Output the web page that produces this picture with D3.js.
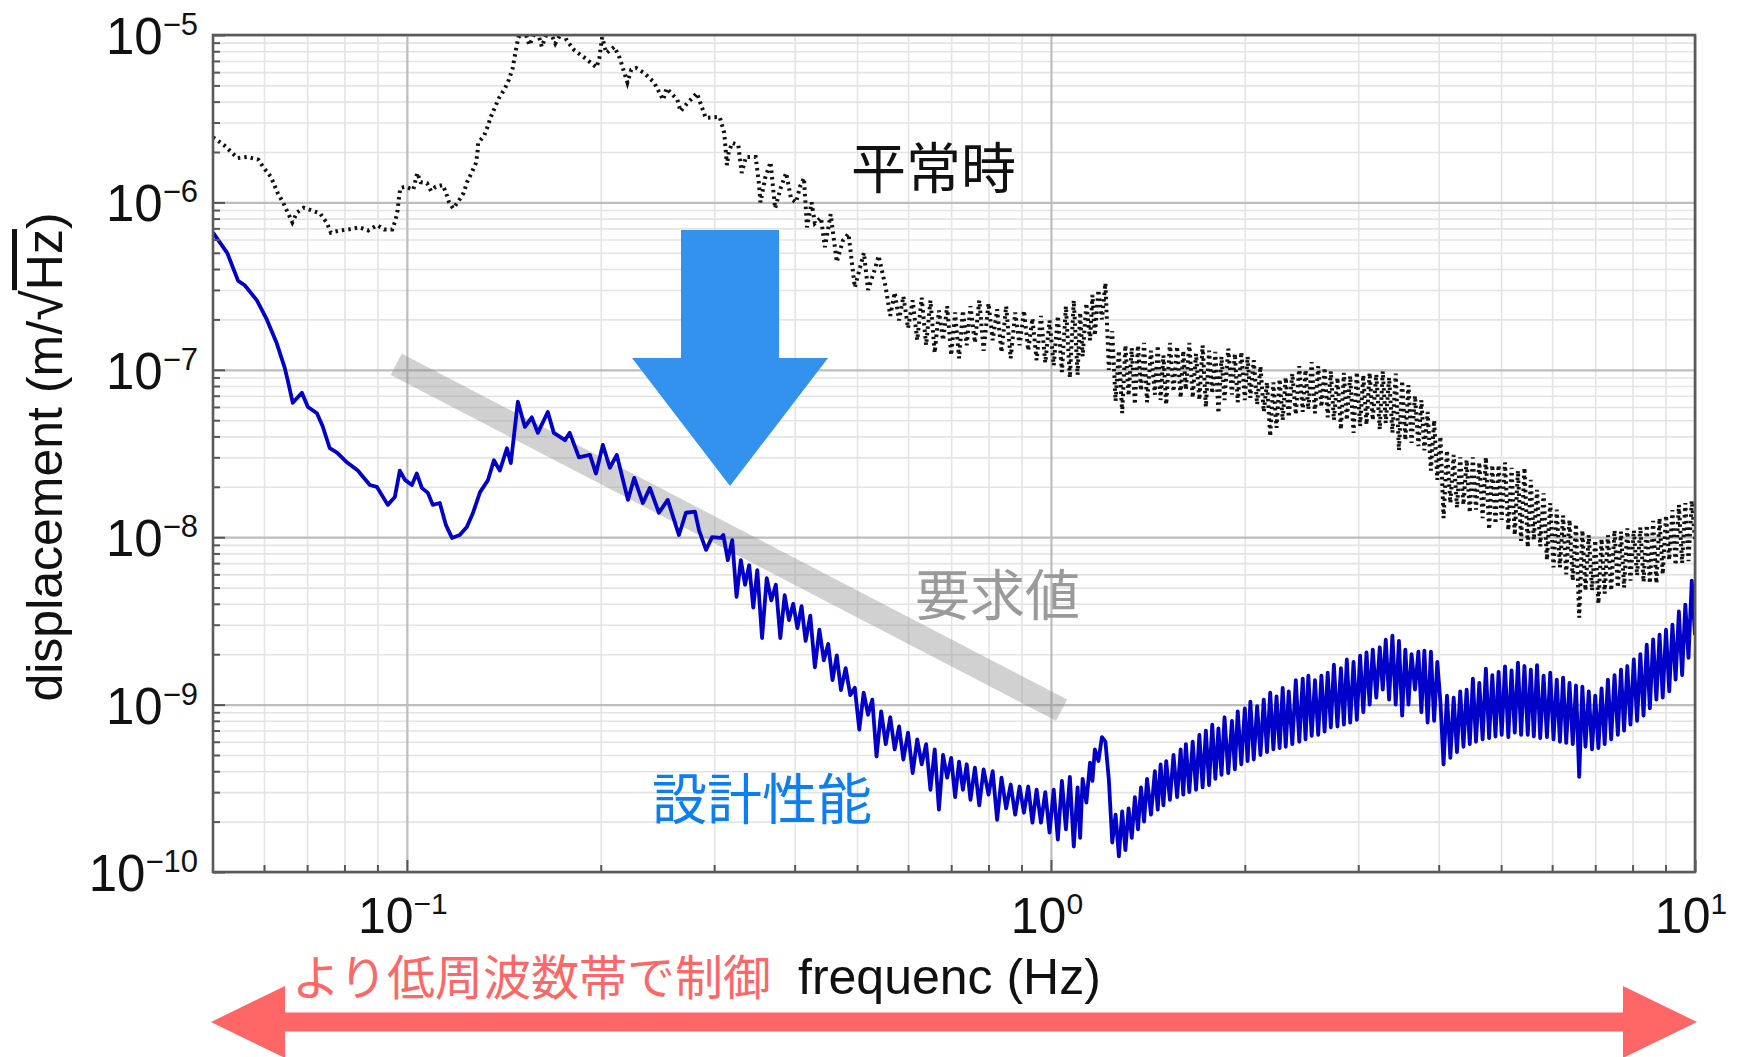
<!DOCTYPE html>
<html>
<head>
<meta charset="utf-8">
<script src="https://cdn.jsdelivr.net/npm/d3@7"></script>
<style>
  html, body { margin: 0; padding: 0; background: #fff; }
  svg { display: block; }
</style>
</head>
<body>
<svg id="chart" width="1738" height="1057"></svg>
<script>
// major ticks
const freqTicks = [0.1, 1, 10];
const freqTickExp = ['\u22121', '0', '1'];
const dispTicks = [1e-5, 1e-6, 1e-7, 1e-8, 1e-9, 1e-10];
const dispTickExp = ['\u22125', '\u22126', '\u22127', '\u22128', '\u22129', '\u221210'];

// 要求値 (requirement)
const requirementFreq = [0.1, 1];
const requirementDisp = [1e-7, 1e-9];

// 平常時 (normal ground motion) below 0.55 Hz
const normalFreq = [
  0.050, 0.052, 0.0546, 0.0565, 0.0588, 0.0598, 0.0615, 0.063, 0.0643, 0.0664,
  0.0675, 0.0692, 0.0715, 0.0733, 0.0752, 0.0762, 0.0787, 0.0813, 0.0843, 0.0871,
  0.0899, 0.0922, 0.0949, 0.096, 0.0967, 0.0972, 0.0977, 0.0995, 0.1023, 0.1038,
  0.105, 0.1075, 0.109, 0.1108, 0.1137, 0.115, 0.1163, 0.118, 0.1205, 0.1225,
  0.124, 0.126, 0.128, 0.1287, 0.129, 0.1318, 0.1333, 0.135, 0.137, 0.139,
  0.142, 0.144, 0.146, 0.147, 0.148, 0.149,
  0.1525, 0.155, 0.159, 0.162, 0.166, 0.170, 0.175, 0.177, 0.182, 0.188,
  0.197, 0.199, 0.201, 0.204, 0.210, 0.214, 0.220, 0.223, 0.227, 0.234,
  0.242, 0.250, 0.253, 0.263, 0.266, 0.269, 0.282, 0.291, 0.306, 0.311,
  0.314, 0.316, 0.320, 0.327, 0.331, 0.336, 0.348, 0.352, 0.354, 0.360,
  0.367, 0.373, 0.380, 0.388, 0.395, 0.402, 0.408, 0.4135, 0.418, 0.425,
  0.430, 0.4395, 0.4457, 0.455, 0.465, 0.4753, 0.485, 0.496, 0.5124, 0.52,
  0.533, 0.54
];
const normalDisp = [
  2.45e-6, 2.2e-6, 1.84e-6, 1.87e-6, 1.8e-6, 1.63e-6, 1.42e-6, 1.14e-6, 9.9e-7, 7.6e-7,
  8.7e-7, 9.3e-7, 8.9e-7, 8.6e-7, 7.5e-7, 6.6e-7, 6.8e-7, 6.9e-7, 7.1e-7, 6.8e-7,
  7.3e-7, 6.9e-7, 6.9e-7, 7.8e-7, 8.9e-7, 1.06e-6, 1.22e-6, 1.24e-6, 1.19e-6, 1.5e-6,
  1.32e-6, 1.3e-6, 1.17e-6, 1.24e-6, 1.27e-6, 1.14e-6, 1.0e-6, 9.2e-7, 1.03e-6, 1.14e-6,
  1.32e-6, 1.5e-6, 1.72e-6, 1.97e-6, 2.27e-6, 2.5e-6, 2.8e-6, 3.24e-6, 3.7e-6, 4.2e-6,
  4.8e-6, 5.4e-6, 6.35e-6, 7.4e-6, 8.5e-6, 9.7e-6,
  1.05e-5, 8.7e-6, 1.1e-5, 8.5e-6, 1.1e-5, 8.9e-6, 1.08e-5, 9.3e-6, 8.1e-6, 7.4e-6,
  6.4e-6, 7.3e-6, 9.7e-6, 7.8e-6, 8.5e-6, 7.3e-6, 5.2e-6, 6.2e-6, 6.35e-6, 5.9e-6,
  5.2e-6, 4.1e-6, 4.8e-6, 4.1e-6, 3.5e-6, 3.7e-6, 4.5e-6, 3.2e-6, 3.24e-6, 2.6e-6,
  1.67e-6, 2.0e-6, 2.27e-6, 2.2e-6, 1.5e-6, 1.87e-6, 1.87e-6, 1.3e-6, 1.0e-6, 1.4e-6,
  1.74e-6, 9.2e-7, 1.2e-6, 1.5e-6, 1.05e-6, 1.0e-6, 1.25e-6, 1.4e-6, 7.1e-7, 1.0e-6,
  7.5e-7, 8.1e-7, 5.4e-7, 8.5e-7, 4.4e-7, 5.9e-7, 6.5e-7, 3.1e-7, 5.0e-7, 3.0e-7,
  4.0e-7, 4.8e-7
];
// 平常時, 0.55 - 1.1 Hz
const normalMidFreq = [
  0.554, 0.563, 0.572, 0.581, 0.59, 0.6, 0.61, 0.62, 0.63, 0.64,
  0.65, 0.66, 0.67, 0.68, 0.69, 0.7, 0.71, 0.72, 0.73, 0.74,
  0.75, 0.762, 0.774, 0.786, 0.8, 0.812, 0.825, 0.838, 0.852, 0.866,
  0.88, 0.894, 0.908, 0.922, 0.936, 0.95, 0.965, 0.98, 0.995, 1.01,
  1.025, 1.04, 1.055, 1.07, 1.085
];
const normalMidDisp = [
  3.1e-7, 2.1e-7, 2.9e-7, 1.97e-7, 2.75e-7, 1.77e-7, 2.6e-7, 1.5e-7, 2.7e-7, 1.4e-7,
  2.6e-7, 1.26e-7, 2.26e-7, 1.5e-7, 2.4e-7, 1.22e-7, 2.2e-7, 1.17e-7, 2.26e-7, 1.4e-7,
  2.4e-7, 1.45e-7, 2.6e-7, 1.3e-7, 2.5e-7, 1.5e-7, 2.3e-7, 1.27e-7, 2.4e-7, 1.17e-7,
  2.2e-7, 1.4e-7, 2.26e-7, 1.3e-7, 2.03e-7, 1.14e-7, 2.1e-7, 1.1e-7, 1.97e-7, 1.06e-7,
  2.1e-7, 9.7e-8, 2.4e-7, 8.95e-8, 2.6e-7
];

// 設計性能 (design performance) below 0.31 Hz
const designFreq = [
  0.05, 0.0526, 0.0547, 0.056, 0.0585, 0.0606, 0.0628, 0.0646, 0.0653, 0.0665,
  0.0687, 0.0702, 0.0725, 0.074, 0.0759, 0.0779, 0.0807, 0.0839, 0.0876, 0.0898,
  0.0934, 0.0958, 0.0975, 0.0993, 0.1018, 0.1036, 0.1055, 0.1078, 0.1097, 0.1125,
  0.115, 0.1175, 0.1208, 0.1239, 0.1266, 0.1299, 0.1336, 0.1365, 0.1394, 0.143,
  0.145, 0.1487, 0.1525, 0.1563, 0.1597, 0.1655, 0.1691, 0.176, 0.179, 0.185,
  0.1924, 0.1966, 0.2015, 0.2066, 0.2118, 0.2204, 0.2254, 0.2325, 0.2384, 0.2462,
  0.2541, 0.2645, 0.2712, 0.2801, 0.2842, 0.2914, 0.2977, 0.3073
];
const designDisp = [
  6.6e-7, 5.0e-7, 3.4e-7, 3.2e-7, 2.6e-7, 2.0e-7, 1.44e-7, 1.03e-7, 8.7e-8, 6.35e-8,
  7.3e-8, 6.0e-8, 5.5e-8, 4.6e-8, 3.4e-8, 3.2e-8, 2.8e-8, 2.5e-8, 2.05e-8, 2.0e-8,
  1.56e-8, 1.74e-8, 2.5e-8, 2.2e-8, 2.05e-8, 2.4e-8, 1.97e-8, 1.84e-8, 1.56e-8, 1.6e-8,
  1.18e-8, 9.9e-9, 1.03e-8, 1.15e-8, 1.39e-8, 1.86e-8, 2.19e-8, 2.88e-8, 2.5e-8, 3.4e-8,
  2.77e-8, 6.45e-8, 4.56e-8, 5.2e-8, 4.2e-8, 5.6e-8, 4.2e-8, 3.8e-8, 4.2e-8, 3.0e-8,
  3.1e-8, 2.4e-8, 3.56e-8, 2.6e-8, 3.1e-8, 1.67e-8, 2.26e-8, 1.6e-8, 1.97e-8, 1.4e-8,
  1.67e-8, 1.03e-8, 1.4e-8, 1.42e-8, 1.1e-8, 8.4e-9, 1.0e-8, 9.9e-9
];
// 設計性能, 0.31 - 1.1 Hz
const designMidFreq = [
  0.31, 0.315, 0.32, 0.325, 0.33, 0.335, 0.34, 0.345, 0.35, 0.356,
  0.362, 0.368, 0.374, 0.38, 0.386, 0.392, 0.398, 0.404, 0.41, 0.416,
  0.423, 0.43, 0.437, 0.444, 0.451, 0.458, 0.465, 0.472, 0.48, 0.488,
  0.496, 0.504, 0.512, 0.52, 0.528, 0.536, 0.545, 0.554, 0.563, 0.572,
  0.581, 0.59, 0.6, 0.61, 0.62, 0.63, 0.64, 0.65, 0.66, 0.67,
  0.68, 0.69, 0.7, 0.71, 0.72, 0.73, 0.74, 0.75, 0.762, 0.774,
  0.786, 0.8, 0.812, 0.825, 0.838, 0.852, 0.866, 0.88, 0.894, 0.908,
  0.922, 0.936, 0.95, 0.965, 0.98, 0.995, 1.01, 1.025, 1.04, 1.055,
  1.07, 1.085
];
const designMidDisp = [
  1.03e-8, 7.3e-9, 9.6e-9, 4.4e-9, 7.3e-9, 5.2e-9, 6.8e-9, 3.8e-9, 6.35e-9, 2.5e-9,
  5.7e-9, 4.2e-9, 5.2e-9, 2.5e-9, 4.5e-9, 3.2e-9, 4.0e-9, 2.86e-9, 3.87e-9, 2.4e-9,
  3.4e-9, 1.67e-9, 2.8e-9, 1.84e-9, 2.3e-9, 1.4e-9, 1.97e-9, 1.22e-9, 1.65e-9, 1.14e-9,
  1.26e-9, 7.1e-10, 1.18e-9, 8.7e-10, 1.07e-9, 4.9e-10, 9.1e-10, 5.8e-10, 8.4e-10, 5.4e-10,
  7.4e-10, 4.7e-10, 6.8e-10, 3.9e-10, 6.2e-10, 4.4e-10, 5.8e-10, 3.1e-10, 5.4e-10, 2.36e-10,
  5.0e-10, 3.66e-10, 4.8e-10, 2.8e-10, 4.56e-10, 3.1e-10, 4.4e-10, 2.7e-10, 4.2e-10, 2.5e-10,
  4.1e-10, 2.9e-10, 4.0e-10, 2.05e-10, 3.66e-10, 2.4e-10, 3.33e-10, 2.2e-10, 3.24e-10, 2.26e-10,
  3.24e-10, 1.97e-10, 3.1e-10, 1.97e-10, 3.0e-10, 1.72e-10, 3.1e-10, 1.56e-10, 3.5e-10, 1.8e-10,
  3.7e-10, 1.42e-10
];

// 1.1 - 10 Hz, both spectra read on the same frequency points
const bandFreq = [
  1.10, 1.11, 1.12, 1.135, 1.15, 1.16, 1.17, 1.185, 1.20, 1.215,
  1.23, 1.245, 1.26, 1.275, 1.29, 1.305, 1.32, 1.335, 1.35, 1.365,
  1.38, 1.395, 1.41, 1.43, 1.45, 1.465, 1.48, 1.495, 1.51, 1.53,
  1.55, 1.57, 1.59, 1.605, 1.62, 1.64, 1.66, 1.68, 1.70, 1.72,
  1.74, 1.76, 1.78, 1.80, 1.82, 1.84, 1.86, 1.885, 1.91, 1.93,
  1.95, 1.975, 2.00, 2.02, 2.04, 2.065, 2.09, 2.115, 2.14, 2.165,
  2.19, 2.215, 2.24, 2.265, 2.29, 2.315, 2.34, 2.37, 2.40, 2.43,
  2.46, 2.485, 2.51, 2.54, 2.57, 2.60, 2.63, 2.66, 2.69, 2.72,
  2.75, 2.785, 2.82, 2.85, 2.88, 2.915, 2.95, 2.985, 3.02, 3.055,
  3.09, 3.125, 3.16, 3.20, 3.24, 3.275, 3.31, 3.35, 3.39, 3.43,
  3.47, 3.51, 3.55, 3.59, 3.63, 3.675, 3.72, 3.76, 3.80, 3.845,
  3.89, 3.935, 3.98, 4.025, 4.07, 4.12, 4.17, 4.22, 4.27, 4.32,
  4.37, 4.42, 4.47, 4.52, 4.57, 4.625, 4.68, 4.735, 4.79, 4.845,
  4.90, 4.955, 5.01, 5.07, 5.13, 5.19, 5.25, 5.31, 5.37, 5.435,
  5.50, 5.56, 5.62, 5.685, 5.75, 5.82, 5.89, 5.96, 6.03, 6.10,
  6.17, 6.24, 6.31, 6.385, 6.46, 6.535, 6.61, 6.685, 6.76, 6.84,
  6.92, 7.00, 7.08, 7.16, 7.24, 7.325, 7.41, 7.50, 7.59, 7.675,
  7.76, 7.85, 7.94, 8.035, 8.13, 8.225, 8.32, 8.415, 8.51, 8.61,
  8.71, 8.81, 8.91, 9.015, 9.12, 9.225, 9.33, 9.44, 9.55, 9.66,
  9.77, 9.885, 10.0
];
const normalBand = [
  9.3e-8, 2.2e-7, 1.2e-7, 2.5e-7, 1.5e-7, 2.8e-7, 1.6e-7, 3.0e-7, 2.0e-7, 3.3e-7,
  1.0e-7, 1.7e-7, 6.5e-8, 1.3e-7, 5.5e-8, 1.4e-7, 7.0e-8, 1.35e-7, 6.2e-8, 1.4e-7,
  7.5e-8, 1.45e-7, 6.4e-8, 1.3e-7, 7.1e-8, 1.4e-7, 6.6e-8, 1.22e-7, 6.2e-8, 1.45e-7,
  7.4e-8, 1.38e-7, 6.8e-8, 1.3e-7, 7.6e-8, 1.45e-7, 6.8e-8, 1.25e-7, 6.6e-8, 1.4e-7,
  6.0e-8, 1.3e-7, 7.2e-8, 1.28e-7, 5.5e-8, 1.2e-7, 6.6e-8, 1.34e-7, 7.1e-8, 1.25e-7,
  6.4e-8, 1.28e-7, 6.6e-8, 1.2e-7, 6.8e-8, 1.14e-7, 6.2e-8, 1.05e-7, 5.6e-8, 8.4e-8,
  4.0e-8, 8.4e-8, 4.5e-8, 8.8e-8, 5.0e-8, 9.0e-8, 5.2e-8, 9.5e-8, 5.4e-8, 1.05e-7,
  5.6e-8, 1.0e-7, 5.8e-8, 1.11e-7, 5.5e-8, 1.05e-7, 6.0e-8, 1.03e-7, 5.2e-8, 9.8e-8,
  5.0e-8, 9.0e-8, 4.4e-8, 9.6e-8, 5.0e-8, 9.2e-8, 4.2e-8, 9.7e-8, 4.6e-8, 9.3e-8,
  4.7e-8, 9.6e-8, 5.0e-8, 9.4e-8, 4.4e-8, 9.8e-8, 4.8e-8, 9.0e-8, 4.2e-8, 9.5e-8,
  3.3e-8, 8.6e-8, 3.8e-8, 8.1e-8, 3.66e-8, 7.0e-8, 3.5e-8, 6.6e-8, 3.3e-8, 5.6e-8,
  2.5e-8, 5.0e-8, 2.2e-8, 4.0e-8, 1.3e-8, 3.3e-8, 1.6e-8, 3.1e-8, 1.5e-8, 3.0e-8,
  1.56e-8, 2.9e-8, 1.4e-8, 3.0e-8, 1.46e-8, 2.8e-8, 1.3e-8, 3.0e-8, 1.11e-8, 2.7e-8,
  1.2e-8, 2.7e-8, 1.27e-8, 2.8e-8, 1.1e-8, 2.6e-8, 1.03e-8, 2.5e-8, 9.5e-9, 2.6e-8,
  8.7e-9, 2.2e-8, 9.6e-9, 1.92e-8, 8.8e-9, 1.83e-8, 7.3e-9, 1.6e-8, 6.6e-9, 1.46e-8,
  6.6e-9, 1.35e-8, 6.0e-9, 1.27e-8, 5.5e-9, 1.2e-8, 3.3e-9, 1.1e-8, 4.8e-9, 1.03e-8,
  4.8e-9, 9.6e-9, 4.0e-9, 9.8e-9, 4.6e-9, 1.03e-8, 4.8e-9, 1.1e-8, 5.0e-9, 1.08e-8,
  5.0e-9, 1.13e-8, 5.5e-9, 1.1e-8, 5.9e-9, 1.15e-8, 5.4e-9, 1.18e-8, 5.3e-9, 1.25e-8,
  5.3e-9, 1.3e-8, 6.0e-9, 1.35e-8, 7.3e-9, 1.45e-8, 6.8e-9, 1.56e-8, 7.0e-9, 1.6e-8,
  7.2e-9, 1.65e-8, 9.6e-9
];
const designBand = [
  3.2e-10, 1.6e-10, 3.6e-10, 2.6e-10, 4.5e-10, 3.5e-10, 5.4e-10, 4.6e-10, 6.4e-10, 6.0e-10,
  3.56e-10, 1.5e-10, 2.2e-10, 1.24e-10, 2.3e-10, 1.35e-10, 2.4e-10, 1.6e-10, 2.8e-10, 1.8e-10,
  3.2e-10, 2.0e-10, 3.6e-10, 2.2e-10, 4.0e-10, 2.36e-10, 4.4e-10, 2.5e-10, 4.6e-10, 2.7e-10,
  5.0e-10, 2.8e-10, 5.4e-10, 2.9e-10, 5.8e-10, 3.0e-10, 6.0e-10, 3.1e-10, 6.6e-10, 3.2e-10,
  7.0e-10, 3.3e-10, 7.6e-10, 3.6e-10, 7.2e-10, 3.8e-10, 8.4e-10, 3.9e-10, 8.0e-10, 4.1e-10,
  9.1e-10, 4.4e-10, 9.5e-10, 4.6e-10, 1.04e-9, 4.7e-10, 9.8e-10, 5.0e-10, 1.07e-9, 5.2e-10,
  1.18e-9, 5.4e-10, 1.12e-9, 5.5e-10, 1.26e-9, 5.6e-10, 1.2e-9, 5.8e-10, 1.4e-9, 6.0e-10,
  1.43e-9, 6.2e-10, 1.49e-9, 6.5e-10, 1.4e-9, 6.6e-10, 1.49e-9, 6.9e-10, 1.55e-9, 7.3e-10,
  1.73e-9, 7.4e-10, 1.65e-9, 7.6e-10, 1.86e-9, 7.8e-10, 1.8e-9, 8.1e-10, 1.96e-9, 9.0e-10,
  2.05e-9, 1.0e-9, 2.13e-9, 1.1e-9, 2.2e-9, 1.23e-9, 2.44e-9, 1.07e-9, 2.58e-9, 1.0e-9,
  2.4e-9, 8.6e-10, 2.13e-9, 1.0e-9, 2.0e-9, 1.23e-9, 2.07e-9, 9.0e-10, 2.1e-9, 7.8e-10,
  2.07e-9, 8.0e-10, 1.8e-9, 1.03e-9, 4.4e-10, 1.13e-9, 4.8e-10, 1.1e-9, 5.2e-10, 1.2e-9,
  5.6e-10, 1.23e-9, 5.8e-10, 1.43e-9, 6.0e-10, 1.35e-9, 6.2e-10, 1.64e-9, 6.3e-10, 1.5e-9,
  6.45e-10, 1.57e-9, 6.6e-10, 1.69e-9, 6.4e-10, 1.6e-9, 6.8e-10, 1.78e-9, 6.6e-10, 1.7e-9,
  6.6e-10, 1.62e-9, 6.45e-10, 1.72e-9, 6.3e-10, 1.49e-9, 6.4e-10, 1.55e-9, 6.2e-10, 1.41e-9,
  6.0e-10, 1.45e-9, 5.9e-10, 1.35e-9, 5.8e-10, 1.3e-9, 3.7e-10, 1.28e-9, 5.6e-10, 1.2e-9,
  5.4e-10, 1.13e-9, 5.5e-10, 1.25e-9, 5.8e-10, 1.41e-9, 6.2e-10, 1.5e-9, 6.6e-10, 1.62e-9,
  7.0e-10, 1.7e-9, 7.6e-10, 1.86e-9, 8.0e-10, 2.0e-9, 8.6e-10, 2.28e-9, 9.5e-10, 2.45e-9,
  1.07e-9, 2.62e-9, 1.1e-9, 2.8e-9, 1.2e-9, 3.0e-9, 1.41e-9, 3.6e-9, 1.5e-9, 3.96e-9,
  1.9e-9, 5.5e-9, 2.6e-9
];

// layout
const margin = {left: 213, right: 1695, top: 35, bottom: 872};
const tickFont = '"Liberation Sans", Arial, Helvetica, sans-serif';
const cjkFont = '"Noto Sans CJK JP", "Noto Sans CJK SC", sans-serif';

const svg = d3.select('#chart');
svg.append('rect').attr('width', 1738).attr('height', 1057).attr('fill', '#fff');

const x = d3.scaleLog().domain([0.05, 10]).range([margin.left, margin.right]);
const y = d3.scaleLog().domain([1e-10, 1e-5]).range([margin.bottom, margin.top]);
const plotW = margin.right - margin.left, plotH = margin.bottom - margin.top;

// minor tick positions (2..9 in every decade)
const minorFreq = [], minorDisp = [];
[0.01, 0.1, 1].forEach(d => d3.range(2, 10).forEach(k => {
  const v = k * d;
  if (v > 0.051 && v < 9.99) minorFreq.push(v);
}));
[1e-10, 1e-9, 1e-8, 1e-7, 1e-6].forEach(d => d3.range(2, 10).forEach(k => minorDisp.push(k * d)));

// grid
function grid(axis, color, width, tr) {
  const g = svg.append('g').attr('transform', tr).call(axis);
  g.select('.domain').remove();
  g.selectAll('line').attr('stroke', color).attr('stroke-width', width);
}
grid(d3.axisBottom(x).tickValues(minorFreq).tickSize(-plotH).tickFormat(''), '#e4e4e4', 1.6, `translate(0,${margin.bottom})`);
grid(d3.axisLeft(y).tickValues(minorDisp).tickSize(-plotW).tickFormat(''), '#e4e4e4', 1.6, `translate(${margin.left},0)`);
grid(d3.axisBottom(x).tickValues(freqTicks).tickSize(-plotH).tickFormat(''), '#bdbdbd', 2.2, `translate(0,${margin.bottom})`);
grid(d3.axisLeft(y).tickValues(dispTicks).tickSize(-plotW).tickFormat(''), '#bdbdbd', 2.2, `translate(${margin.left},0)`);

svg.append('clipPath').attr('id', 'plot-clip')
  .append('rect').attr('x', margin.left).attr('y', margin.top).attr('width', plotW).attr('height', plotH);

const line = d3.line().x(d => x(d[0])).y(d => y(d[1]));
const curves = svg.append('g').attr('clip-path', 'url(#plot-clip)');

// requirement band
curves.append('path')
  .datum(d3.zip(requirementFreq, requirementDisp))
  .attr('d', line)
  .attr('fill', 'none')
  .attr('stroke', 'rgb(140,140,140)')
  .attr('stroke-opacity', 0.4)
  .attr('stroke-width', 24)
  .attr('stroke-linecap', 'square');

// 平常時: dotted black
const normal = d3.zip(normalFreq.concat(normalMidFreq, bandFreq), normalDisp.concat(normalMidDisp, normalBand));
curves.append('path')
  .datum(normal)
  .attr('d', line)
  .attr('fill', 'none')
  .attr('stroke', '#111')
  .attr('stroke-width', 4)
  .attr('stroke-dasharray', '2.5 4');

// 設計性能: solid blue
const design = d3.zip(designFreq.concat(designMidFreq, bandFreq), designDisp.concat(designMidDisp, designBand));
curves.append('path')
  .datum(design)
  .attr('d', line)
  .attr('fill', 'none')
  .attr('stroke', '#0000c8')
  .attr('stroke-width', 3.8)
  .attr('stroke-linejoin', 'round');

// axes: inward ticks and box
function ticks(axis, tr) {
  const g = svg.append('g').attr('transform', tr).call(axis);
  g.select('.domain').remove();
  g.selectAll('line').attr('stroke', '#555').attr('stroke-width', 2);
}
ticks(d3.axisBottom(x).tickValues(minorFreq).tickSize(-7).tickFormat(''), `translate(0,${margin.bottom})`);
ticks(d3.axisBottom(x).tickValues(freqTicks).tickSize(-12).tickFormat(''), `translate(0,${margin.bottom})`);
ticks(d3.axisLeft(y).tickValues(minorDisp).tickSize(-7).tickFormat(''), `translate(${margin.left},0)`);
ticks(d3.axisLeft(y).tickValues(dispTicks).tickSize(-12).tickFormat(''), `translate(${margin.left},0)`);

svg.append('rect')
  .attr('x', margin.left).attr('y', margin.top).attr('width', plotW).attr('height', plotH)
  .attr('fill', 'none').attr('stroke', '#5a5a5a').attr('stroke-width', 2.6);

// tick labels 10^n
const yLab = svg.append('g').attr('font-family', tickFont).attr('fill', '#111');
dispTicks.forEach((v, i) => {
  const t = yLab.append('text').attr('x', 198).attr('y', y(v) + 19).attr('text-anchor', 'end');
  t.append('tspan').attr('font-size', 51).text('10');
  t.append('tspan').attr('font-size', 31).attr('dy', -19).text(dispTickExp[i]);
});
const xLab = svg.append('g').attr('font-family', tickFont).attr('fill', '#111');
freqTicks.forEach((f, i) => {
  const t = xLab.append('text').attr('x', x(f) - 4).attr('y', 933).attr('text-anchor', 'middle');
  t.append('tspan').attr('font-size', 50).text('10');
  t.append('tspan').attr('font-size', 30).attr('dy', -19).text(freqTickExp[i]);
});

// axis titles
const yTitle = svg.append('text')
  .attr('transform', 'translate(62,457) rotate(-90)')
  .attr('text-anchor', 'middle')
  .attr('font-family', tickFont)
  .attr('font-size', 50)
  .attr('fill', '#111');
yTitle.append('tspan').text('displacement (m/');
yTitle.append('tspan').attr('font-size', 56).text('\u221A');
yTitle.append('tspan').style('text-decoration', 'overline').text('Hz');
yTitle.append('tspan').text(')');

svg.append('text')
  .attr('x', 798).attr('y', 994)
  .attr('font-family', tickFont).attr('font-size', 50).attr('fill', '#111')
  .text('frequenc (Hz)');

// annotations
svg.append('text')
  .attr('x', 851).attr('y', 188)
  .attr('font-family', cjkFont).attr('font-size', 55).attr('fill', '#111')
  .text('平常時');
svg.append('text')
  .attr('x', 915).attr('y', 615)
  .attr('font-family', cjkFont).attr('font-size', 55).attr('fill', '#9a9a9a')
  .text('要求値');
svg.append('text')
  .attr('x', 652).attr('y', 819)
  .attr('font-family', cjkFont).attr('font-size', 55).attr('fill', '#0b7ef0')
  .text('設計性能');

// blue down arrow
const ba = {cx: 730, top: 230, neck: 358, tip: 486, shaft: 49, head: 98};
svg.append('path')
  .attr('d', `M${ba.cx - ba.shaft},${ba.top} L${ba.cx + ba.shaft},${ba.top} L${ba.cx + ba.shaft},${ba.neck}
    L${ba.cx + ba.head},${ba.neck} L${ba.cx},${ba.tip} L${ba.cx - ba.head},${ba.neck}
    L${ba.cx - ba.shaft},${ba.neck} Z`)
  .attr('fill', '#3392ee');

// pink double arrow and its label
const pa = {x0: 211, x1: 1697, cy: 1022, shaft: 9.5, head: 36, len: 74};
svg.append('path')
  .attr('d', `M${pa.x0},${pa.cy} L${pa.x0 + pa.len},${pa.cy - pa.head} L${pa.x0 + pa.len},${pa.cy - pa.shaft}
    L${pa.x1 - pa.len},${pa.cy - pa.shaft} L${pa.x1 - pa.len},${pa.cy - pa.head} L${pa.x1},${pa.cy}
    L${pa.x1 - pa.len},${pa.cy + pa.head} L${pa.x1 - pa.len},${pa.cy + pa.shaft}
    L${pa.x0 + pa.len},${pa.cy + pa.shaft} L${pa.x0 + pa.len},${pa.cy + pa.head} Z`)
  .attr('fill', '#ff6666');
svg.append('text')
  .attr('x', 292).attr('y', 995)
  .attr('font-family', cjkFont).attr('font-size', 48).attr('fill', '#ff6666')
  .text('より低周波数帯で制御');
</script>
</body>
</html>
